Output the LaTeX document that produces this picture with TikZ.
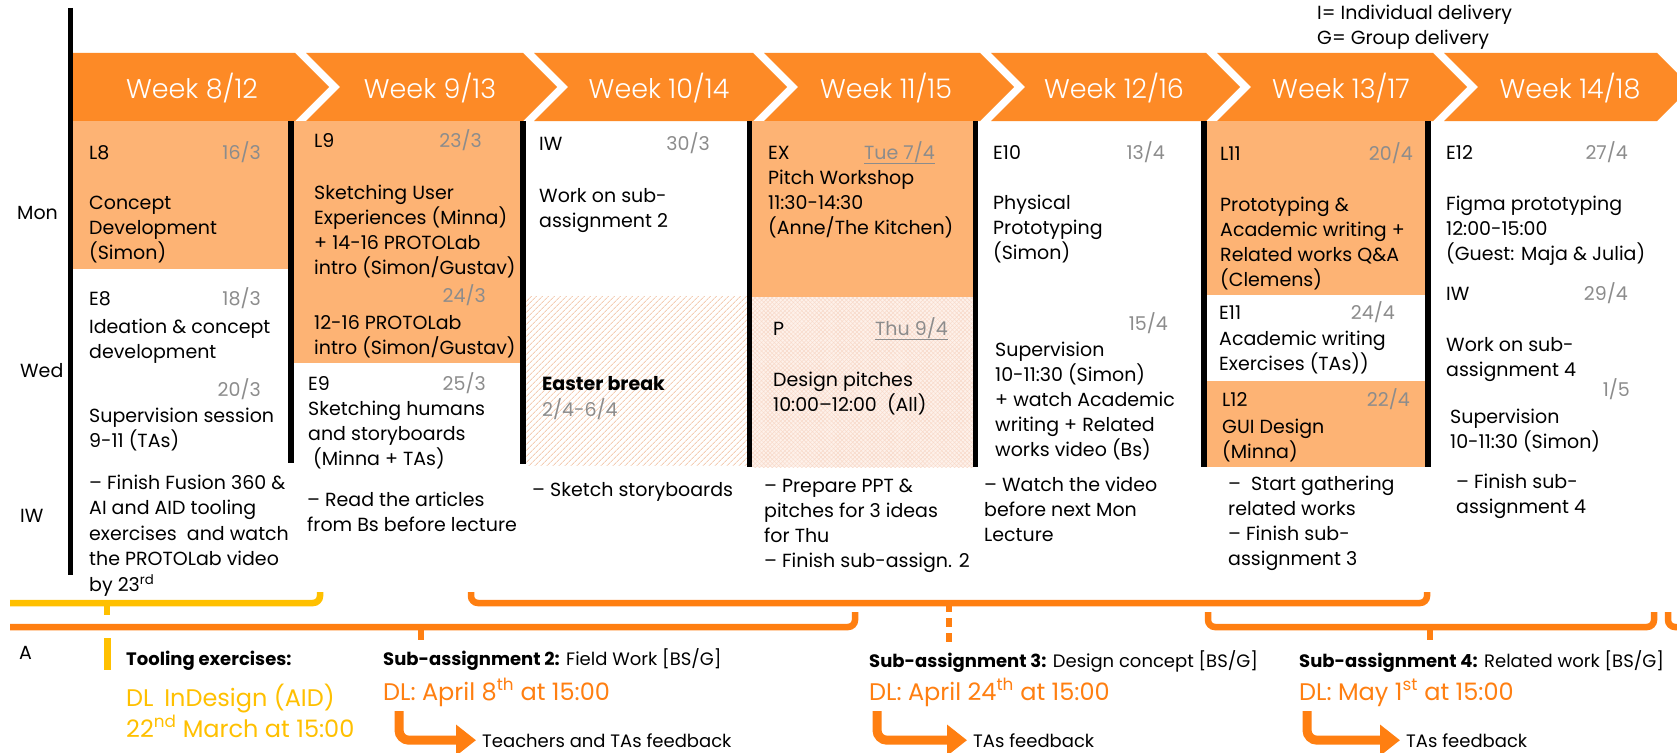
\documentclass[tikz,border=0pt]{standalone}
\usepackage{fontspec}
\setmainfont{Poppins}
\newfontfamily\thinfont{Poppins Light}
\usetikzlibrary{arrows.meta,patterns.meta}
\definecolor{hdr}{HTML}{FD8A26}
\definecolor{lecbox}{HTML}{FDB374}
\definecolor{dategray}{HTML}{8C8C8C}
\definecolor{tool}{HTML}{FFC000}
\definecolor{dl}{HTML}{FF7F11}
\definecolor{easter}{HTML}{F4CDB4}
\definecolor{pitchfill}{HTML}{FEF1EA}
\definecolor{pitchhatch}{HTML}{F8D9C9}
\newcommand{\bodysize}{\fontsize{19}{25}\selectfont}
\newcommand{\bigsize}{\fontsize{24}{31}\selectfont}
\newcommand{\hdrsize}{\fontsize{27}{30}\selectfont}
\newcommand{\notesize}{\fontsize{18}{22}\selectfont}
\begin{document}
% text blocks are placed by the baseline of their last line
\begin{tikzpicture}[x=1pt,y=-1pt,
  txt/.style={anchor=base west,inner sep=0pt,align=left,font=\bodysize},
  date/.style={anchor=base east,inner sep=0pt,text=dategray,font=\bodysize},
  wk/.style={text=white,font=\thinfont\hdrsize,inner sep=0pt},
  lec/.style={fill=lecbox,draw=none},
  sep/.style={line width=5.5pt,black},
  bracket/.style={line width=6.5pt,rounded corners=7pt},
  tick/.style={line width=6.5pt},
  fb/.style={-{Triangle[length=20pt,width=30pt]},line width=9pt,dl,rounded corners=10pt},
  dlnote/.style={txt,font=\bigsize,text=dl},
  subnote/.style={txt,font=\notesize}]
\fill[white] (0,0) rectangle (1677,752);
\useasboundingbox (0,0) rectangle (1677,752);
\clip (0,0) rectangle (1677,752);

% week banner
\fill[hdr] (70,53) -- (295,53) -- (329,87) -- (295,121) -- (70,121) -- cycle;
\foreach \l/\r in {306/523, 534/753, 764/980, 991/1206, 1217/1433, 1444/1657}
  \fill[hdr] (\l,53) -- (\r,53) -- ({\r+34},87) -- (\r,121) -- (\l,121) -- ({\l+34},87) -- cycle;
\node[wk] (w1) at (192,88) {Week 8/12};
\node[wk] (w2) at (430,88) {Week 9/13};
\node[wk] (w3) at (659,88) {Week 10/14};
\node[wk] (w4) at (886,88) {Week 11/15};
\node[wk] (w5) at (1114,88) {Week 12/16};
\node[wk] (w6) at (1341,88) {Week 13/17};
\node[wk] (w7) at (1570,88) {Week 14/18};

% session blocks
\fill[lec] (73,121) rectangle (289,269);
\fill[lec] (294,121) rectangle (521,363);
\fill[lec] (752,121) rectangle (973,297);
\fill[pitchfill] (752,297) rectangle (973,467);
\fill[pattern={Lines[angle=45,distance=3pt,line width=0.5pt]},pattern color=pitchhatch] (752,297) rectangle (973,467);
\fill[pattern={Lines[angle=-45,distance=3pt,line width=0.5pt]},pattern color=pitchhatch] (752,297) rectangle (973,467);
\fill[lec] (1207,121) rectangle (1426,295);
\fill[lec] (1207,381) rectangle (1426,467);
\fill[pattern={Lines[angle=45,distance=4pt,line width=0.9pt]},pattern color=easter] (526,296) rectangle (747,465);

% column rules
\draw[sep] (70.5,8) -- (70.5,575);
\draw[sep] (291,121) -- (291,463);
\draw[sep] (523,121) -- (523,464);
\draw[sep] (749.5,121) -- (749.5,467);
\draw[sep] (975.5,121) -- (975.5,467);
\draw[sep] (1204,121) -- (1204,467);
\draw[sep] (1428,121) -- (1428,467);

% row labels and legend
\node[txt] (mon) at (17,219) {Mon};
\node[txt] (wed) at (20,377) {Wed};
\node[txt] (iwl) at (20,522) {IW};
\node[txt] (al) at (19,659) {A};
\node[txt] (leg) at (1317,45) {I= Individual delivery\\G= Group delivery};

% week 8/12
\node[txt] (l8) at (89,159) {L8};
\node[date] (l8d) at (261,159) {16/3};
\node[txt] (l8t) at (89,259) {Concept\\Development\\(Simon)};
\node[txt] (e8) at (89,305) {E8};
\node[date] (e8d) at (261,305) {18/3};
\node[txt] (e8t) at (89,358) {Ideation \& concept\\development};
\node[date] (s8d) at (261,396) {20/3};
\node[txt] (s8t) at (89,447) {Supervision session\\9-11 (TAs)};
\node[txt,font=\fontsize{19}{25.5}\selectfont] (iw8) at (89,591) {– Finish Fusion 360 \&\\AI and AID tooling\\exercises\ \ and watch\\the PROTOLab video\\by 23\textsuperscript{rd}};

% week 9/13
\node[txt] (l9) at (314,147) {L9};
\node[date] (l9d) at (482,147) {23/3};
\node[txt] (l9t) at (314,274) {Sketching User\\Experiences (Minna)\\+ 14-16 PROTOLab\\intro (Simon/Gustav)};
\node[date] (p9d) at (486,302) {24/3};
\node[txt] (p9t) at (314,354) {12-16 PROTOLab\\intro (Simon/Gustav)};
\node[txt] (e9) at (308,390) {E9};
\node[date] (e9d) at (486,390) {25/3};
\node[txt] (e9t) at (308,465) {Sketching humans\\and storyboards\\\hspace{5pt}(Minna + TAs)};
\node[txt] (iw9) at (307,531) {– Read the articles\\from Bs before lecture};

% week 10/14
\node[txt] (iw10) at (539,150) {IW};
\node[date] (iw10d) at (710,150) {30/3};
\node[txt] (iw10t) at (539,227) {Work on sub-\\assignment 2};
\node[txt,font=\bodysize\bfseries] (eb) at (542,390) {Easter break};
\node[txt,text=dategray] (ebd) at (542,416) {2/4-6/4};
\node[txt] (iw10n) at (532,496) {– Sketch storyboards};

% week 11/15
\node[txt] (ex) at (768,159) {EX};
\node[date] (exd) at (935,159) {\underline{Tue 7/4}};
\node[txt] (ext) at (768,234) {Pitch Workshop\\11:30-14:30\\(Anne/The Kitchen)};
\node[txt] (pp) at (773,335) {P};
\node[date] (ppd) at (948,335) {\underline{Thu 9/4}};
\node[txt] (ppt) at (773,411) {Design pitches\\10:00–12:00\ \ (All)};
\node[txt] (iw11) at (764,567) {– Prepare PPT \&\\pitches for 3 ideas\\for Thu\\– Finish sub-assign. 2};

% week 12/16
\node[txt] (e10) at (993,159) {E10};
\node[date] (e10d) at (1165,159) {13/4};
\node[txt] (e10t) at (993,259) {Physical\\Prototyping\\(Simon)};
\node[date] (s10d) at (1168,330) {15/4};
\node[txt] (s10t) at (995,456) {Supervision\\10-11:30 (Simon)\\+ watch Academic\\writing + Related\\works video (Bs)};
\node[txt] (iw12) at (984,541) {– Watch the video\\before next Mon\\Lecture};

% week 13/17
\node[txt] (l11) at (1220,160) {L11};
\node[date] (l11d) at (1413,160) {20/4};
\node[txt] (l11t) at (1220,286) {Prototyping \&\\Academic writing +\\Related works Q\&A\\(Clemens)};
\node[txt] (e11) at (1219,319) {E11};
\node[date] (e11d) at (1395,319) {24/4};
\node[txt] (e11t) at (1219,370) {Academic writing\\Exercises (TAs))};
\node[txt] (l12) at (1222,406) {L12};
\node[date] (l12d) at (1410,406) {22/4};
\node[txt] (l12t) at (1222,458) {GUI Design\\(Minna)};
\node[txt] (iw13) at (1228,565) {–\ \ Start gathering\\related works\\– Finish sub-\\assignment 3};

% week 14/18
\node[txt] (e12) at (1446,159) {E12};
\node[date] (e12d) at (1628,159) {27/4};
\node[txt] (e12t) at (1446,260) {Figma prototyping\\12:00-15:00\\(Guest: Maja \& Julia)};
\node[txt] (iw14) at (1446,300) {IW};
\node[date] (iw14d) at (1628,300) {29/4};
\node[txt] (iw14t) at (1446,376) {Work on sub-\\assignment 4};
\node[date] (s14d) at (1630,396) {1/5};
\node[txt] (s14t) at (1450,448) {Supervision\\10-11:30 (Simon)};
\node[txt] (iw14n) at (1456,513) {– Finish sub-\\assignment 4};

% assignment brackets
\draw[bracket,tool] (10,603) -| (320,592);
\draw[tick,tool] (107,603) -- (107,615);
\draw[bracket,dl] (471,592) |- (1427,603) -- (1427,592);
\draw[tick,dl,dash pattern=on 9pt off 6pt] (949,603) -- (949,642);
\draw[bracket,dl] (10,627) -| (855,612);
\draw[tick,dl] (421,627) -- (421,640);
\draw[bracket,dl] (1208,612) |- (1654,627) -- (1654,612);
\draw[tick,dl] (1430,627) -- (1430,640);
\draw[bracket,dl] (1668,612) |- (1700,627);
\draw[line width=7pt,tool] (107,638) -- (107,670);

% deadlines
\node[subnote,font=\notesize\bfseries] (tl) at (126,665) {Tooling exercises:};
\node[txt,font=\bigsize,text=tool] (tldl) at (126,737) {DL\hspace{0.45em}InDesign (AID)\\22\textsuperscript{nd} March at 15:00};
\node[subnote] (sa2) at (383,665) {\textbf{Sub-assignment 2:} Field Work [BS/G]};
\node[dlnote] (dl2) at (383,700) {DL: April 8\textsuperscript{th} at 15:00};
\node[subnote] (fb2) at (482,747) {Teachers and TAs feedback};
\node[subnote] (sa3) at (869,667) {\textbf{Sub-assignment 3:} Design concept [BS/G]};
\node[dlnote] (dl3) at (869,700) {DL: April 24\textsuperscript{th} at 15:00};
\node[subnote] (fb3) at (973,747) {TAs feedback};
\node[subnote] (sa4) at (1299,667) {\textbf{Sub-assignment 4:} Related work [BS/G]};
\node[dlnote] (dl4) at (1299,700) {DL: May 1\textsuperscript{st} at 15:00};
\node[subnote] (fb4) at (1406,747) {TAs feedback};

% feedback arrows
\coordinate (a2) at (399,711);
\coordinate (a3) at (877,711);
\coordinate (a4) at (1307,711);
\draw[fb] (a2) |- ([xshift=-6pt]fb2.west);
\draw[fb] (a3) |- ([xshift=-6pt]fb3.west);
\draw[fb] (a4) |- ([xshift=-6pt]fb4.west);
\end{tikzpicture}
\end{document}
